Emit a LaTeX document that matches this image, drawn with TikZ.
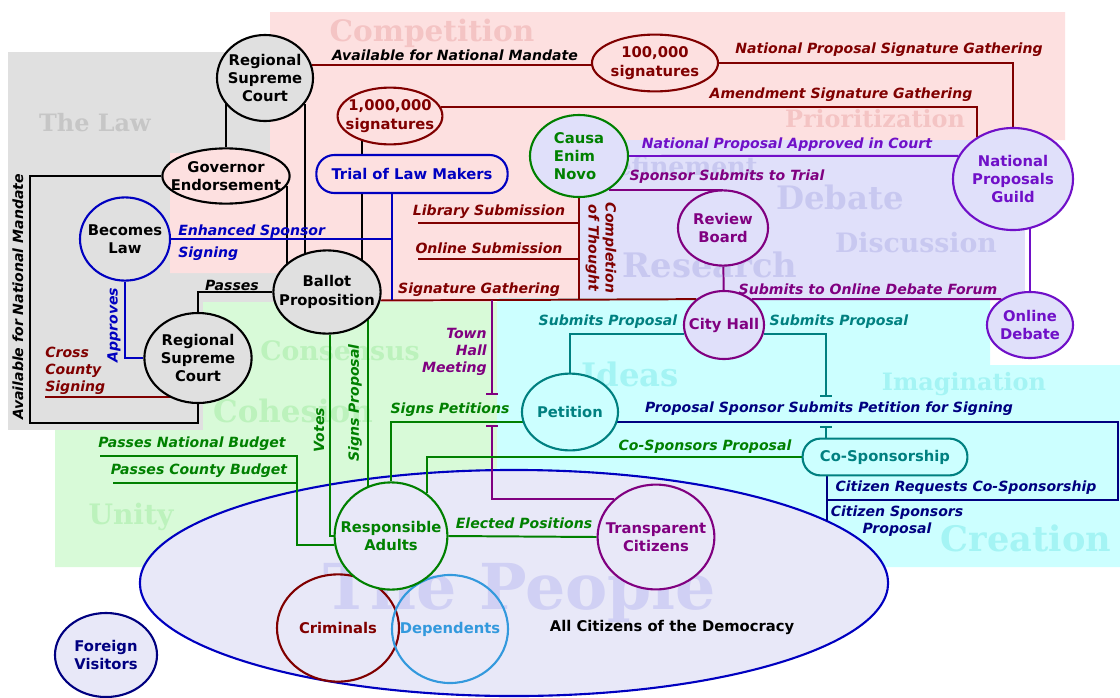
\documentclass[tikz,border=0pt]{standalone}
\usepackage{fontspec}
\setmainfont{DejaVu Sans}
\newfontfamily\wmfont{DejaVu Serif}
\usetikzlibrary{shapes.geometric,arrows.meta}

\definecolor{darkred}{HTML}{800000}
\definecolor{lawgrey}{HTML}{E0E0E0}
\definecolor{lawpink}{HTML}{FDE0E0}
\definecolor{lavbg}{HTML}{E0E0FA}
\definecolor{greenbg}{HTML}{D8FAD8}
\definecolor{cyanbg}{HTML}{CCFFFF}
\definecolor{peoplebg}{HTML}{E8E8F8}
\definecolor{wmpink}{HTML}{F4C4C4}
\definecolor{wmgrey}{HTML}{C6C6C6}
\definecolor{wmlav}{HTML}{C8C8F0}
\definecolor{wmgreen}{HTML}{BCF2BC}
\definecolor{wmcyan}{HTML}{A4F4F4}
\definecolor{wmpeople}{HTML}{D0D0F4}
\definecolor{nodeblue}{HTML}{0000C0}
\definecolor{navy}{HTML}{000080}
\definecolor{grn}{HTML}{008000}
\definecolor{tealc}{HTML}{008080}
\definecolor{purp}{HTML}{800080}
\definecolor{viol}{HTML}{7010C8}
\definecolor{depblue}{HTML}{3399DD}

\newcommand\bubfont{\bfseries\fontsize{10.5}{13}\selectfont}
\newcommand\tagfont{\bfseries\itshape\fontsize{10}{12}\selectfont}

\pgfdeclarelayer{bg}
\pgfdeclarelayer{wires}
\pgfsetlayers{bg,wires,main}

\tikzset{
  bub/.style={ellipse, draw=#1, line width=1.5pt, inner sep=0pt},
  bt/.style={text=#1, align=center, font=\bubfont, inner sep=0pt},
  pill/.style={rectangle, rounded corners=0.45cm, draw=#1, text=#1, line width=1.5pt, font=\bubfont, inner sep=0pt},
  wire/.style={draw=#1, line width=1.4pt},
  tag/.style={text=#1, font=\tagfont, inner sep=0pt},
  wm/.style 2 args={text=#1, inner sep=0pt, font=\wmfont\bfseries\fontsize{#2}{#2}\selectfont},
  hopend/.style={-{Bar[width=8pt]}},
  hopstart/.style={{Bar[width=8pt]}-},
}

\begin{document}
\begin{tikzpicture}[x=0.025cm, y=-0.025cm]
  \useasboundingbox (0,0) rectangle (1120,698);

  % Backdrops
  \begin{pgfonlayer}{bg}
    \fill[white] (0,0) rectangle (1120,698);
    \fill[lawgrey] (8,52) rectangle (280,430);
    \fill[lawpink] (270,12) -- (1065,12) -- (1065,140) -- (580,140) -- (580,300)
      -- (280,300) -- (280,273) -- (170,273) -- (170,153) -- (270,153) -- cycle;
    \fill[lavbg] (580,140) rectangle (1025,298);
    \fill[greenbg] (203,302) -- (497,302) -- (497,567) -- (55,567) -- (55,430) -- (203,430) -- cycle;
    \fill[cyanbg] (497,298) -- (990,298) -- (990,365) -- (1120,365) -- (1120,567) -- (497,567) -- cycle;

    \node[wm={wmpink}{21}] (wcomp) at (432,33) {Competition};
    \node[wm={wmgrey}{17}] (wlaw) at (95,123) {The Law};
    \node[wm={wmpink}{17}] (wprio) at (875,119) {Prioritization};
    \node[wm={wmlav}{18}] (wref) at (676,166) {Refinement};
    \node[wm={wmlav}{23}] (wdeb) at (840,197) {Debate};
    \node[wm={wmlav}{19}] (wdis) at (916,243) {Discussion};
    \node[wm={wmlav}{24}] (wres) at (710,265) {Research};
    \node[wm={wmgreen}{19}] (wcons) at (340,351) {Consensus};
    \node[wm={wmgreen}{22}] (wcoh) at (293,411) {Cohesion};
    \node[wm={wmgreen}{20}] (wuni) at (131,517) {Unity};
    \node[wm={wmcyan}{23}] (wide) at (630,374) {Ideas};
    \node[wm={wmcyan}{17}] (wima) at (964,384) {Imagination};
    \node[wm={wmcyan}{25}] (wcre) at (1026,538) {Creation};

    % The People
    \node[bub=nodeblue, fill=peoplebg, minimum width=18.7cm, minimum height=5.65cm] (people) at (514,583) {};
    \node[wm={wmpeople}{45}] (wpeo) at (520,592) {The People};
  \end{pgfonlayer}

  % Nodes
  \node[bub=black, fill=lawgrey, minimum width=2.4cm, minimum height=2.15cm,
    label={[bt=black]center:Regional\\Supreme\\Court}] (rsc1) at (265,78) {};
  \node[bub=black, fill=lawpink, minimum width=3.18cm, minimum height=1.38cm,
    label={[bt=black]center:Governor\\Endorsement}] (gov) at (226,176) {};
  \node[bub=darkred, fill=lawpink, minimum width=2.62cm, minimum height=1.42cm,
    label={[bt=darkred]center:1,000,000\\signatures}] (mil) at (390,116) {};
  \node[bub=darkred, fill=lawpink, minimum width=3.15cm, minimum height=1.42cm,
    label={[bt=darkred]center:100,000\\signatures}] (hk) at (655,63) {};
  \node[bub=grn, fill=lavbg, minimum width=2.45cm, minimum height=2.05cm,
    label={[bt=grn, align=left]center:Causa\\Enim\\Novo}] (causa) at (579,156) {};
  \node[pill=nodeblue, fill=lawpink, minimum width=4.78cm, minimum height=0.95cm] (trial) at (412,174) {Trial of Law Makers};
  \node[bub=viol, fill=lavbg, minimum width=3.0cm, minimum height=2.55cm,
    label={[bt=viol]center:National\\Proposals\\Guild}] (guild) at (1013,179) {};
  \node[bub=purp, fill=lavbg, minimum width=2.25cm, minimum height=1.88cm,
    label={[bt=purp]center:Review\\Board}] (rb) at (723,228) {};
  \node[bub=nodeblue, fill=lawgrey, minimum width=2.25cm, minimum height=2.08cm,
    label={[bt=black]center:Becomes\\Law}] (law) at (125,239) {};
  \node[bub=black, fill=lawgrey, minimum width=2.68cm, minimum height=2.08cm,
    label={[bt=black]center:Ballot\\Proposition}] (bp) at (327,292) {};
  \node[bub=black, fill=lawgrey, minimum width=2.68cm, minimum height=2.25cm,
    label={[bt=black]center:Regional\\Supreme\\Court}] (rsc2) at (198,358) {};
  \node[bub=purp, fill=lavbg, minimum width=2.0cm, minimum height=1.7cm,
    label={[bt=purp]center:City Hall}] (ch) at (724,325) {};
  \node[bub=viol, fill=lavbg, minimum width=2.15cm, minimum height=1.65cm,
    label={[bt=viol]center:Online\\Debate}] (od) at (1030,325) {};
  \node[bub=tealc, fill=cyanbg, minimum width=2.4cm, minimum height=1.92cm,
    label={[bt=tealc]center:Petition}] (pet) at (570,412) {};
  \node[pill=tealc, fill=cyanbg, minimum width=4.12cm, minimum height=0.92cm] (cs) at (885,457) {Co-Sponsorship};
  \node[bub=darkred, minimum width=3.05cm, minimum height=2.68cm,
    label={[bt=darkred]center:Criminals}] (crim) at (338,628) {};
  \node[bub=depblue, minimum width=2.9cm, minimum height=2.7cm,
    label={[bt=depblue]center:Dependents}] (dep) at (450,629) {};
  \node[bub=grn, fill=peoplebg, minimum width=2.82cm, minimum height=2.68cm,
    label={[bt=grn]center:Responsible\\Adults}] (ra) at (391,536) {};
  \node[bub=purp, fill=peoplebg, minimum width=2.92cm, minimum height=2.62cm,
    label={[bt=purp]center:Transparent\\Citizens}] (tc) at (656,537) {};
  \node[bub=navy, fill=peoplebg, minimum width=2.55cm, minimum height=2.1cm,
    label={[bt=navy]center:Foreign\\Visitors}] (fv) at (106,655) {};
  \node[bt=black] (allc) at (672,627) {All Citizens of the Democracy};

  % Free ends and bends
  \coordinate (lib) at (418,223);
  \coordinate (onl) at (418,259);
  \coordinate (tj) at (392,300);
  \coordinate (thA) at (492,395);
  \coordinate (thB) at (492,425);
  \coordinate (hopA) at (826,397);
  \coordinate (hopB) at (826,426);
  \coordinate (crq) at (1118,500);
  \coordinate (cpp) at (827,521);
  \coordinate (nb) at (100,456);
  \coordinate (cb) at (113,483);
  \coordinate (bud) at (297,545);
  \coordinate (ccs) at (45,397);

  % Connectors
  \begin{pgfonlayer}{wires}
    \draw[wire=black] (gov) -- (gov |- rsc1);
    \draw[wire=black] (rsc1.-33) -- (rsc1.-33 |- bp);
    \draw[wire=black] (gov.-9) -- (gov.-9 |- bp);
    \draw[wire=black] (mil.-138) -- (mil.-138 |- bp);
    \draw[wire=black] (gov.west) -| (30,423) -| (rsc2.south);
    \draw[wire=black] (bp.west) -| (rsc2.north);

    \draw[wire=darkred] (rsc1.16) -- (rsc1.16 -| hk.west);
    \draw[wire=darkred] (hk.east) -| (guild.north);
    \draw[wire=darkred] (mil.10) -| (guild.131);
    \draw[wire=darkred] (bp.-9) -- (ch.137);
    \draw[wire=darkred] (causa.south) -- (causa.south |- bp.-9);
    \draw[wire=darkred] (lib) -- (lib -| causa.south);
    \draw[wire=darkred] (onl) -- (onl -| causa.south);
    \draw[wire=darkred] (ccs) -- (ccs -| rsc2);

    \draw[wire=nodeblue] (tj |- trial) -- (tj);
    \draw[wire=nodeblue] (law) -- (law -| tj);
    \draw[wire=nodeblue] (law.south) |- (rsc2.west);

    \draw[wire=viol] (causa.east) -- (guild.157);
    \draw[wire=purp] (causa.-49) -- (causa.-49 -| rb.north);
    \draw[wire=purp] (rb) -- (ch);
    \draw[wire=purp] (ch.43) -- (od.138);
    \draw[wire=viol] (od.north) -- (od.north |- guild);
    \draw[wire=purp, hopend] (thA |- bp.-9) -- (thA);
    \draw[wire=purp, hopstart] (thB) |- (tc.138);

    \draw[wire=tealc] (ch.-167) -| (pet.north);
    \draw[wire=tealc, hopend] (ch.-13) -| (hopA);
    \draw[wire=tealc, hopstart] (hopB) -- (hopB |- cs.north);

    \draw[wire=navy] (pet.-12) -| (crq) -- (crq -| cpp);
    \draw[wire=navy] (cs.south -| cpp) -- (cpp);

    \draw[wire=grn] (bp.-86) |- (ra.west);
    \draw[wire=grn] (bp.-35) -- (bp.-35 |- ra);
    \draw[wire=grn] (nb) -| (bud) -- (ra.-171);
    \draw[wire=grn] (cb) -- (cb -| bud);
    \draw[wire=grn] (pet.-168) -| (ra.north);
    \draw[wire=grn] (cs.west) -| (ra.50);
    \draw[wire=grn] (ra.east) -- (tc.west);
  \end{pgfonlayer}

  % Connector labels
  \node[tag=black] (tavail) at (455,55) {Available for National Mandate};
  \node[tag=black, rotate=90] (tavail2) at (18,297) {Available for National Mandate};
  \node[tag=darkred] (tnpsg) at (889,50) {National Proposal Signature Gathering};
  \node[tag=darkred] (tasg) at (841,95) {Amendment Signature Gathering};
  \node[tag=viol] (tnpac) at (787,145) {National Proposal Approved in Court};
  \node[tag=purp] (tsst) at (727,177) {Sponsor Submits to Trial};
  \node[tag=darkred] (tlib) at (489,212) {Library Submission};
  \node[tag=darkred] (tonl) at (489,248) {Online Submission};
  \node[tag=darkred] (tsig) at (479,290) {Signature Gathering};
  \node[tag=darkred, rotate=-90, align=center] (tcomp) at (601,248) {Completion\\of Thought};
  \node[tag=nodeblue, anchor=west] (tess) at (178,232) {Enhanced Sponsor};
  \node[tag=nodeblue, anchor=west] (tsgn) at (178,254) {Signing};
  \node[tag=purp] (tsodf) at (868,289) {Submits to Online Debate Forum};
  \node[tag=black] (tpass) at (232,285) {Passes};
  \node[tag=nodeblue, rotate=90] (tapp) at (114,325) {Approves};
  \node[tag=darkred, align=left, anchor=south west] (tccs) at (45,395) {Cross\\County\\Signing};
  \node[tag=tealc] (tsp1) at (608,322) {Submits Proposal};
  \node[tag=tealc] (tsp2) at (839,322) {Submits Proposal};
  \node[tag=purp, align=right, anchor=east] (tthm) at (487,352) {Town\\Hall\\Meeting};
  \node[tag=grn] (tspet) at (450,410) {Signs Petitions};
  \node[tag=navy] (tpss) at (829,409) {Proposal Sponsor Submits Petition for Signing};
  \node[tag=grn] (tcsp) at (705,447) {Co-Sponsors Proposal};
  \node[tag=navy] (tcrc) at (966,488) {Citizen Requests Co-Sponsorship};
  \node[tag=navy, align=center] (tcspr) at (897,521) {Citizen Sponsors\\Proposal};
  \node[tag=grn] (tpnb) at (192,444) {Passes National Budget};
  \node[tag=grn] (tpcb) at (199,471) {Passes County Budget};
  \node[tag=grn, rotate=90] (tvotes) at (319,430) {Votes};
  \node[tag=grn, rotate=90] (tsprop) at (355,403) {Signs Proposal};
  \node[tag=grn] (tep) at (524,523) {Elected Positions};
\end{tikzpicture}
\end{document}
